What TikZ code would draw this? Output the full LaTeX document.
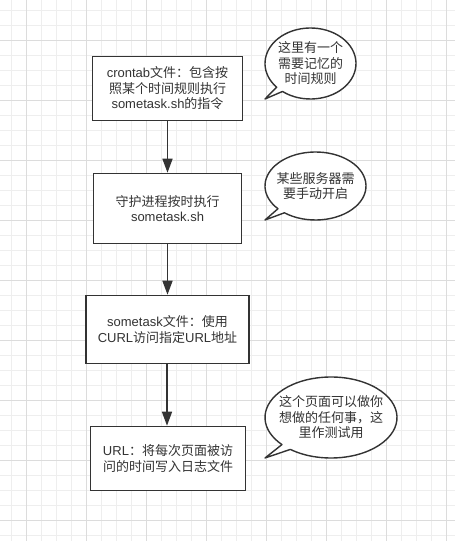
\documentclass[tikz,border=0pt]{standalone}
\usepackage{fontspec}
\setmainfont{Liberation Sans}
\newfontfamily\cjk{Noto Sans CJK SC}
\usetikzlibrary{arrows.meta}
\definecolor{ink}{HTML}{333333}
\definecolor{gridminor}{HTML}{EEEEEE}
\definecolor{gridmajor}{HTML}{DCDCDC}
\newcommand\bubbleshape[3]{%
  \draw[bubble] (#1) ++(232:#2pt and #3pt)
    arc[start angle=232, end angle=582, x radius=#2pt, y radius=#3pt]
    -- ([shift={(-#2pt,-#3pt)}]#1) -- cycle;}
\begin{document}
\begin{tikzpicture}[x=1pt,y=1pt,
  txt/.style={inner sep=0pt, align=center, text=ink, font=\fontsize{13}{15.5}\selectfont},
  box/.style={txt, draw=ink, line width=1.6pt, fill=white},
  bubble/.style={draw=ink, line width=1.4pt, fill=white, line join=round},
  flow/.style={draw=ink, line width=1.6pt, -{Triangle[length=14pt,width=10pt]}}]
\useasboundingbox (0,0) rectangle (455,541);
\fill[white] (0,0) rectangle (455,541);
% grid
\foreach \k in {0,...,29} \draw[gridminor, line width=0.8pt] ({11.7+15*\k},0) -- ({11.7+15*\k},541);
\foreach \k in {0,...,35} \draw[gridminor, line width=0.8pt] (0,{531-15*\k}) -- (455,{531-15*\k});
\foreach \k in {0,...,7} \draw[gridmajor, line width=0.8pt] ({26.7+60*\k},0) -- ({26.7+60*\k},541);
\foreach \k in {0,...,8} \draw[gridmajor, line width=0.8pt] (0,{501-60*\k}) -- (455,{501-60*\k});
% flow boxes
\node[box, minimum width=150pt, minimum height=64pt] (s1) at (167.5,452.5)
  {crontab{\cjk 文件：包含按}\\{\cjk 照某个时间规则执行}\\sometask.sh{\cjk 的指令}};
\node[box, minimum width=148pt, minimum height=70pt] (s2) at (167.5,332.5)
  {{\cjk 守护进程按时执行}\\sometask.sh};
\node[box, minimum width=163pt, minimum height=68pt] (s3) at (167.5,211.5)
  {sometask{\cjk 文件：使用}\\CURL{\cjk 访问指定}URL{\cjk 地址}};
\node[box, minimum width=155pt, minimum height=64pt] (s4) at (168,82.5)
  {URL{\cjk ：将每次页面被访}\\{\cjk 问的时间写入日志文件}};
\draw[flow] (s1.south) -- (s2.north);
\draw[flow] (s2.south) -- (s3.north);
\draw[flow] ([xshift=-0.5pt]s3.south) -- ([xshift=-1pt]s4.north);
% callouts
\coordinate (c1) at (310.5,477.5);
\coordinate (c2) at (315.5,355);
\coordinate (c3) at (331,123.5);
\bubbleshape{c1}{45.5}{35.5}
\bubbleshape{c2}{50.5}{34}
\bubbleshape{c3}{66}{40.5}
\node[txt] (n1) at (c1) {\cjk 这里有一个\\\cjk 需要记忆的\\\cjk 时间规则};
\node[txt] (n2) at (c2) {\cjk 某些服务器需\\\cjk 要手动开启};
\node[txt] (n3) at (c3) {\cjk 这个页面可以做你\\\cjk 想做的任何事，这\\\cjk 里作测试用};
\end{tikzpicture}
\end{document}
